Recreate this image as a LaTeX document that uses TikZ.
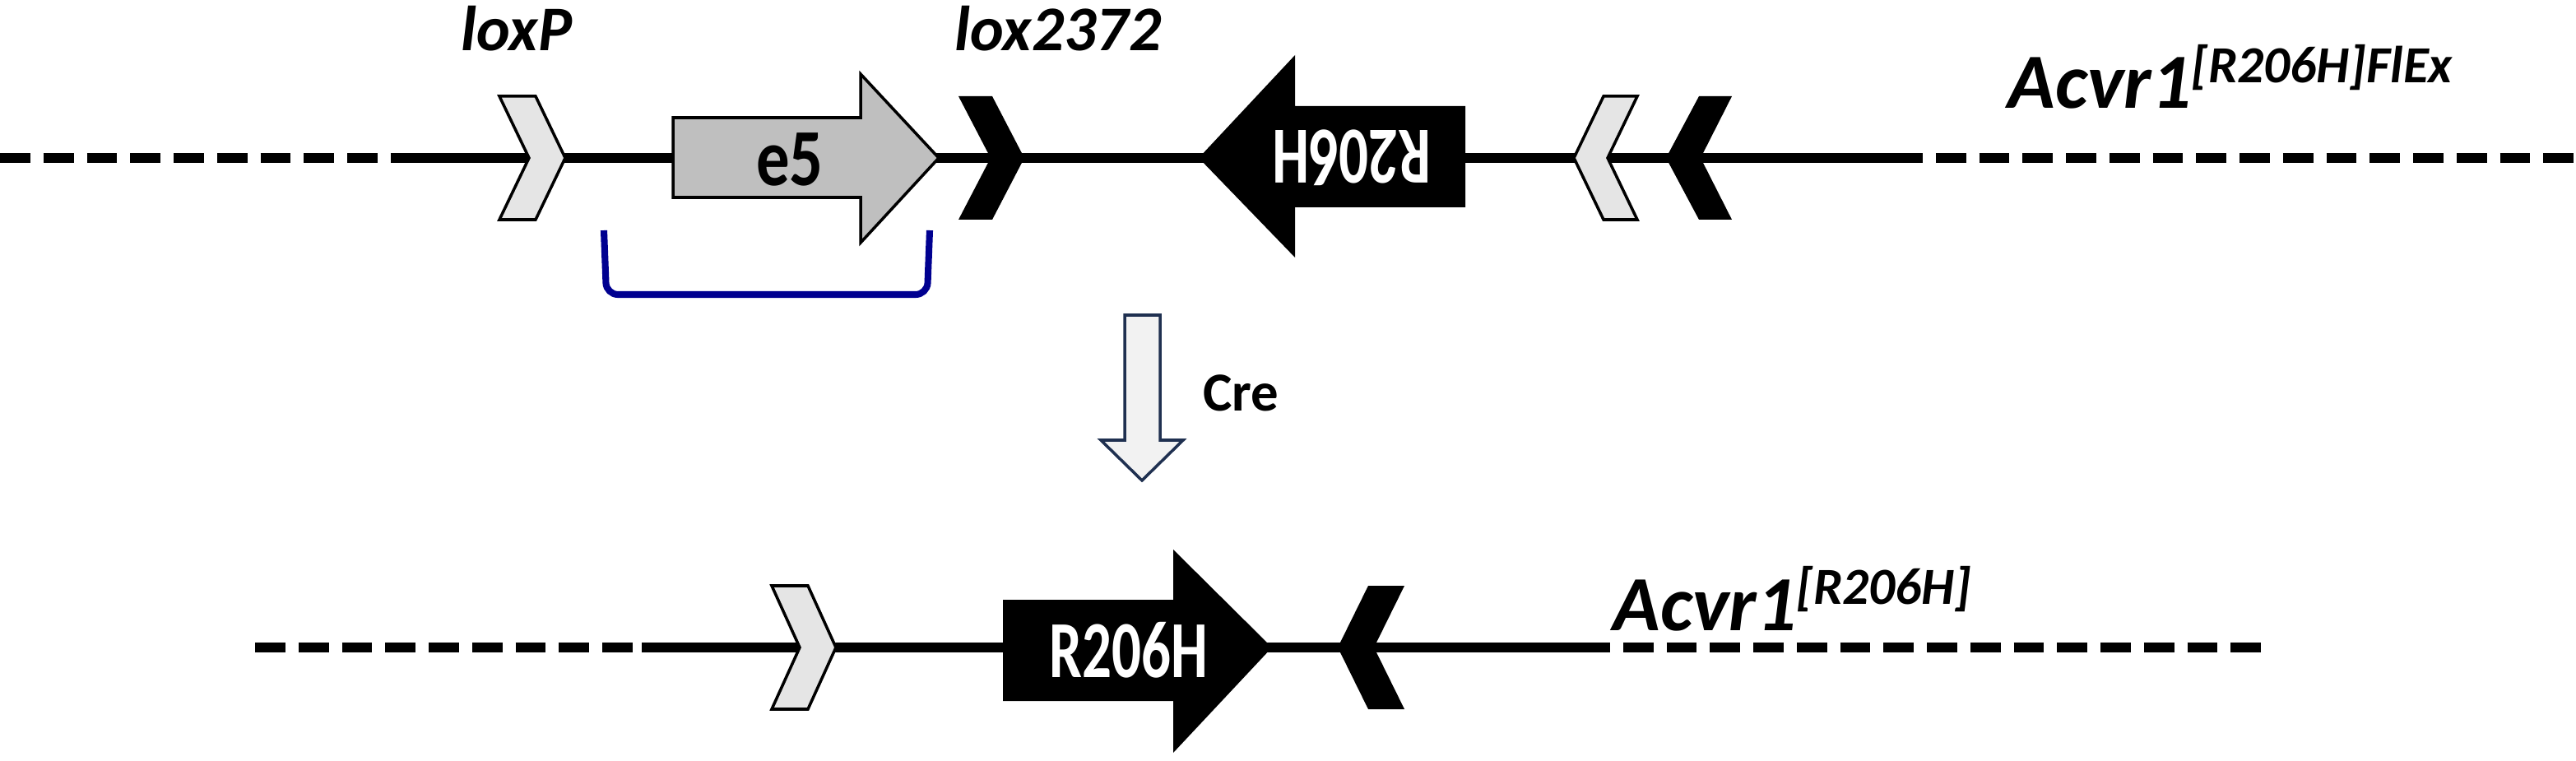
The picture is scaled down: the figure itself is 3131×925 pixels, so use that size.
\documentclass[tikz,border=0pt]{standalone}
\usepackage{fontspec}
\setmainfont{Carlito}
\begin{document}
\begin{tikzpicture}[x=0.01cm,y=-0.01cm,
  dna/.style={line width=3.5pt},
  dsh/.style={line width=3.5pt,dash pattern=on 10.5pt off 4.5pt},
  lox/.style={draw=black,line width=1pt,fill=gray!20},
  blox/.style={fill=black},
  gene/.style={font=\bfseries\fontsize{28}{30}\selectfont},
  lbl/.style={font=\bfseries\itshape\fontsize{22}{24}\selectfont,anchor=base west,inner sep=0pt}]
\useasboundingbox (0,0) rectangle (3131,925);
% top line
\coordinate (t0) at (0,192); \coordinate (t1) at (480,192);
\coordinate (t2) at (2300,192); \coordinate (t3) at (3131,192);
\draw[dsh] (t0) -- (t1);
\draw[dna] (t1) -- (t2);
\draw[dsh] (t2) -- (t3);
% loxP
\draw[lox] (607,117) -- (651,117) -- (687,192) -- (651,267) -- (607,267) -- (643,192) -- cycle;
% e5
\draw[line width=1pt,fill=gray!50] (818,143) -- (1046,143) -- (1046,90) -- (1141,192) -- (1046,295) -- (1046,240) -- (818,240) -- cycle;
\node[gene] (e5) at (960,194) {\scalebox{0.82}[1]{e5}};
% lox2372
\fill[blox] (1165,117) -- (1206,117) -- (1245,192) -- (1206,267) -- (1165,267) -- (1204,192) -- cycle;
% R206H reverse
\fill (1457,192) -- (1574,67) -- (1574,129) -- (1781,129) -- (1781,252) -- (1574,252) -- (1574,313) -- cycle;
\node[text=white,rotate=180,gene] (r1) at (1643,192) {\scalebox{0.72}[1]{R206H}};
% left lox
\draw[lox] (1990,117) -- (1949,117) -- (1913,192) -- (1949,267) -- (1990,267) -- (1954,192) -- cycle;
\fill[blox] (2105,117) -- (2065,117) -- (2025,192) -- (2065,267) -- (2105,267) -- (2067,192) -- cycle;
% labels
\node[lbl] (lp) at (560,62) {loxP};
\node[lbl] (l2) at (1160,62) {lox2372};
\node[lbl,font=\bfseries\itshape\fontsize{27}{29}\selectfont] (a1) at (2440,132) {Acvr1\textsuperscript{\fontsize{18}{20}\selectfont[R206H]FlEx}};
% bracket
\draw[draw={rgb,255:red,0;green,0;blue,144},line width=2.3pt,rounded corners=4pt] (734,280) -- (737,358) -- (1127,358) -- (1130,280);
% Cre arrow
\draw[draw={rgb,255:red,31;green,48;blue,80},fill=gray!10,line width=1pt] (1367,383) -- (1410,383) -- (1410,535) -- (1438,535) -- (1388,584) -- (1338,535) -- (1367,535) -- cycle;
\node[font=\bfseries\fontsize{19}{21}\selectfont,anchor=west] (cre) at (1450,478) {Cre};
% bottom line
\coordinate (b0) at (310,787); \coordinate (b1) at (780,787);
\coordinate (b2) at (1920,787); \coordinate (b3) at (2750,787);
\draw[dsh] (b0) -- (b1);
\draw[dna] (b1) -- (b2);
\draw[dsh] (b2) -- (b3);
\draw[lox] (938,712) -- (982,712) -- (1016,787) -- (982,862) -- (938,862) -- (972,787) -- cycle;
\fill (1219,729) -- (1426,729) -- (1426,668) -- (1546,787) -- (1426,915) -- (1426,852) -- (1219,852) -- cycle;
\node[text=white,gene] (r2) at (1372,790) {\scalebox{0.72}[1]{R206H}};
\fill[blox] (1707,712) -- (1663,712) -- (1626,787) -- (1663,862) -- (1707,862) -- (1670,787) -- cycle;
\node[lbl,font=\bfseries\itshape\fontsize{27}{29}\selectfont] (a2) at (1960,766) {Acvr1\textsuperscript{\fontsize{18}{20}\selectfont[R206H]}};
\end{tikzpicture}
\end{document}
